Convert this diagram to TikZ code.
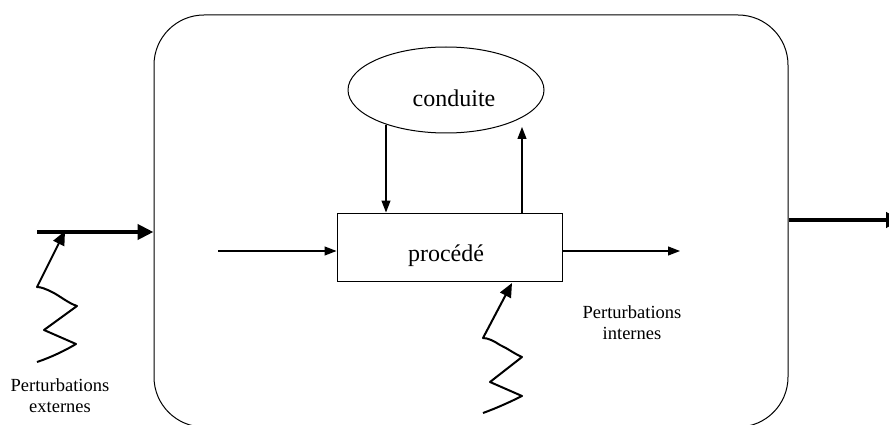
\documentclass[tikz,border=0pt]{standalone}
\usepackage{fontspec}
\setmainfont{Liberation Serif}
\usetikzlibrary{arrows.meta,shapes.geometric}
\begin{document}
\begin{tikzpicture}[x=1pt,y=-1pt,
  flow/.style={line width=1.2pt,-{Triangle[length=12pt,width=9pt]}},
  big/.style={line width=4pt,-{Triangle[length=16pt,width=15pt]}},
  wave/.style={line width=2pt,line join=round,-{Triangle[length=14pt,width=12pt]}},
  lbl/.style={font=\fontsize{18.5}{21}\selectfont,align=center,inner sep=0pt}]
\clip (0,0) rectangle (889,425);
\useasboundingbox (0,0) rectangle (889,425);
% frame
\node[draw,line width=1pt,rounded corners=50pt,minimum width=634pt,minimum height=412pt,inner sep=0pt] (sys) at (471,221) {};
% conduite
\node[draw,ellipse,line width=1pt,minimum width=196pt,minimum height=86pt,inner sep=0pt] (cond) at (446,90) {};
\node[font=\fontsize{24}{28}\selectfont,anchor=base,inner sep=0pt] (condt) at (454,107) {conduite};
% procede
\node[draw,line width=1pt,minimum width=225pt,minimum height=68pt,inner sep=0pt] (proc) at (449.5,247) {};
\node[font=\fontsize{24}{28}\selectfont,anchor=base,inner sep=0pt] (proct) at (446,261) {procédé};
% coordinates
\coordinate (in) at (218,251);
\coordinate (out) at (680,251);
\coordinate (cdA) at (386,125);
\coordinate (cuA) at (522,127);
\coordinate (bigin) at (37,232);
\coordinate (bigout) at (902,220);
\coordinate (tipL) at (65,231);
\coordinate (tipM) at (512,283);
% flows
\draw[flow] (in) -- (in -| proc.west);
\draw[flow] (out -| proc.east) -- (out);
\draw[flow] (cdA) -- (cdA |- proc.north);
\draw[flow] (cuA |- proc.north) -- (cuA);
\draw[big] (bigin) -- (bigin -| sys.west);
\draw[big] (bigout -| sys.east) -- (bigout);
% waves
\draw[wave] (37,362) .. controls (52,357) and (66,350) .. (76,344) -- (44,330) -- (77,306)
  .. controls (68,303) and (60,296) .. (52,292) .. controls (46,289) and (41,287) .. (37,287) -- (tipL);
\draw[wave] (483,413) .. controls (497,408) and (512,401) .. (522,396) -- (490,382) -- (522,357)
  .. controls (513,353) and (507,348) .. (500,345) .. controls (494,341) and (488,338) .. (483,338) -- (tipM);
% labels
\node[lbl,anchor=base] (pe) at (60,412) {Perturbations\\externes};
\node[lbl,anchor=base] (pi) at (632,339) {Perturbations\\internes};
\end{tikzpicture}
\end{document}
